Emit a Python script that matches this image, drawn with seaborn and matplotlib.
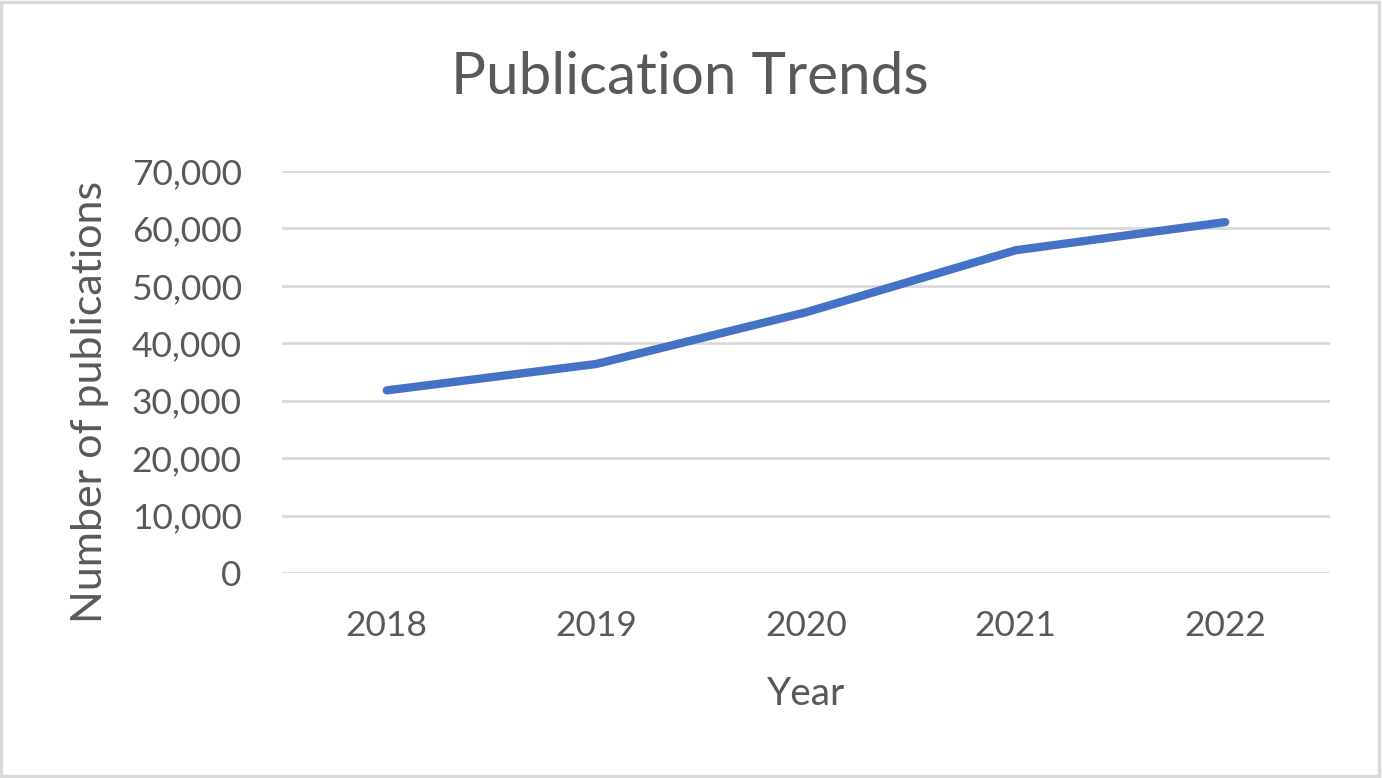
import matplotlib
matplotlib.use("Agg")
import matplotlib.pyplot as plt
import seaborn as sns
import pandas as pd
from matplotlib.ticker import FuncFormatter
from matplotlib.patches import Rectangle

years = ["2018", "2019", "2020", "2021", "2022"]
publications = [31800, 36400, 45400, 56200, 61100]
yticks = [0, 10000, 20000, 30000, 40000, 50000, 60000, 70000]

df = pd.DataFrame({"Year": years, "Publications": publications})

sns.set_theme(style="white")
plt.rcParams["font.family"] = ["Lato", "DejaVu Sans"]
txt = "#595959"

fig = plt.figure(figsize=(13.82, 7.78), dpi=100)
ax = fig.add_axes([282/1382, 1-573/778, (1330-282)/1382, (573-171)/778])

sns.lineplot(data=df, x="Year", y="Publications", ax=ax, color="#4472C4",
             linewidth=6, solid_capstyle="round", solid_joinstyle="round", sort=False)

ax.set_xlim(-0.5, len(years) - 0.5)
ax.set_ylim(0, 70000)
ax.set_yticks(yticks)
ax.yaxis.set_major_formatter(FuncFormatter(lambda v, p: f"{int(v):,}"))
ax.grid(axis="y", color="#d9d9d9", linewidth=2)
ax.set_axisbelow(True)
for s in ax.spines.values():
    s.set_visible(False)
ax.tick_params(axis="both", length=0, labelsize=25.5, labelcolor=txt)
ax.tick_params(axis="y", pad=29)
ax.tick_params(axis="x", pad=27)
ax.set_xlabel("Year", fontsize=28, color=txt, labelpad=24)
ax.set_ylabel("Number of publications", fontsize=31, color=txt, labelpad=16, y=0.425)
fig.text(690/1382, 1-78/778, "Publication Trends", fontsize=42, color=txt,
         ha="center", va="center")

fig.patches.append(Rectangle((0.001, 0.002), 0.997, 0.995, transform=fig.transFigure,
                             fill=False, edgecolor="#d9d9d9", linewidth=2.5))

fig.savefig("out.png", dpi=100)
